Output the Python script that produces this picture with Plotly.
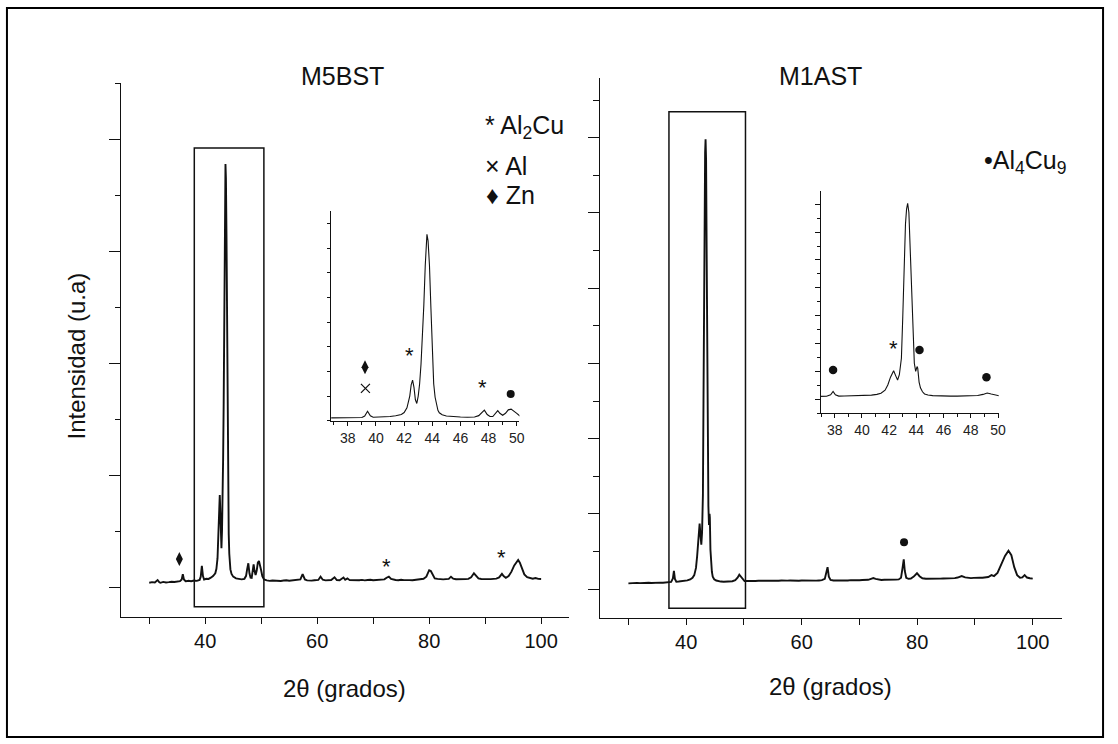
import plotly.graph_objects as go

# ---------------- diffraction patterns (2theta in degrees, intensity in a.u.) ----------------
m5bst_2theta = [
    30.0, 30.5, 31.0, 31.5, 31.8, 32.0, 32.5, 33.0, 33.5, 34.0, 34.5, 35.0, 35.5, 35.8, 36.0,
    36.2, 36.5, 36.85, 37.0, 37.5, 38.0, 38.5, 39.0, 39.2, 39.4, 39.6, 39.8, 40.2, 40.6, 41.0,
    41.4, 41.8, 42.0, 42.2, 42.4, 42.5, 42.6, 42.7, 42.8, 42.9, 43.0, 43.1, 43.2, 43.3, 43.4,
    43.5, 43.62, 43.7, 43.8, 43.9, 44.0, 44.1, 44.2, 44.3, 44.4, 44.5, 44.7, 45.0, 45.5, 46.0,
    46.5, 47.0, 47.3, 47.5, 47.7, 47.9, 48.1, 48.3, 48.5, 48.65, 48.8, 49.0, 49.2, 49.4, 49.6,
    49.8, 50.0, 50.2, 50.5, 51.0, 51.5, 52.0, 52.5, 53.0, 53.5, 54.0, 54.5, 55.0, 55.5, 56.0,
    56.5, 57.0, 57.4, 57.8, 58.2, 58.5, 59.0, 59.5, 60.2, 60.6, 61.0, 61.5, 62.0, 62.5, 63.1,
    63.5, 64.0, 64.7, 65.0, 65.4, 65.8, 66.5, 67.0, 67.5, 68.0, 68.5, 69.0, 69.5, 70.0, 70.5,
    71.0, 71.5, 72.0, 72.4, 72.8, 73.2, 73.6, 74.0, 74.5, 75.0, 75.5, 76.0, 76.5, 77.0, 77.5,
    78.0, 78.5, 79.0, 79.5, 80.0, 80.3, 80.7, 81.0, 81.5, 82.0, 82.5, 83.0, 83.5, 83.9, 84.3,
    84.8, 85.5, 86.0, 86.5, 87.0, 87.5, 88.0, 88.4, 88.8, 89.3, 90.0, 90.5, 91.0, 91.5, 92.0,
    92.5, 93.0, 93.3, 93.7, 94.2, 94.7, 95.2, 95.6, 95.9, 96.2, 96.6, 97.0, 97.5, 98.0, 98.5,
    99.0, 99.5, 100.0,
]
m5bst_counts = [
    82, 92, 85, 130, 90, 80, 96, 86, 92, 100, 94, 106, 110, 140, 235,
    140, 110, 112, 118, 110, 122, 116, 132, 190, 385, 200, 140, 152, 150, 172,
    200, 250, 330, 520, 1000, 1450, 1650, 1350, 850, 700, 1000, 1500, 2300, 3300, 4700,
    6300, 7560, 7300, 6300, 4600, 3000, 1500, 950, 600, 420, 320, 240, 190, 160, 150,
    142, 152, 205, 330, 430, 250, 172, 168, 330, 410, 300, 220, 300, 440, 470,
    400, 300, 200, 140, 125, 115, 122, 117, 123, 114, 121, 126, 117, 123, 125,
    128, 140, 235, 140, 124, 121, 119, 126, 132, 190, 135, 124, 129, 131, 180,
    130, 127, 175, 135, 160, 128, 124, 131, 127, 133, 124, 131, 136, 127, 133,
    129, 136, 142, 172, 192, 150, 135, 130, 127, 136, 129, 133, 129, 127, 136,
    139, 141, 152, 190, 305, 290, 200, 160, 151, 144, 141, 146, 151, 190, 155,
    144, 141, 142, 146, 151, 180, 250, 210, 160, 149, 146, 139, 146, 151, 156,
    176, 240, 200, 170, 200, 280, 390, 460, 490, 440, 330, 230, 180, 160, 154,
    166, 150, 148,
]

m1ast_2theta = [
    30.0, 30.5, 31.0, 31.5, 32.0, 32.5, 33.0, 33.5, 34.0, 34.5, 35.0, 35.5, 36.0, 36.5, 37.0,
    37.4, 37.7, 37.88, 38.05, 38.3, 38.7, 39.2, 39.7, 40.2, 40.7, 41.1, 41.4, 41.7, 41.9, 42.1,
    42.33, 42.5, 42.62, 42.75, 42.9, 43.0, 43.1, 43.2, 43.28, 43.36, 43.45, 43.55, 43.65, 43.75, 43.85,
    43.95, 44.05, 44.1, 44.2, 44.3, 44.45, 44.6, 44.85, 45.2, 45.6, 46.0, 46.5, 47.0, 47.5, 48.0,
    48.5, 48.9, 49.2, 49.5, 49.8, 50.1, 50.5, 51.0, 51.5, 52.0, 52.5, 53.0, 53.5, 54.0, 54.5,
    55.0, 55.5, 56.0, 56.5, 57.0, 57.5, 58.0, 58.5, 59.0, 59.5, 60.0, 60.5, 61.0, 61.5, 62.0,
    62.5, 63.0, 63.5, 64.0, 64.25, 64.48, 64.7, 65.0, 65.5, 66.0, 66.5, 67.0, 67.5, 68.0, 68.5,
    69.0, 69.5, 70.0, 70.5, 71.0, 71.5, 72.0, 72.4, 72.8, 73.3, 73.8, 74.3, 74.8, 75.3, 75.8,
    76.3, 76.8, 77.2, 77.45, 77.67, 77.85, 78.1, 78.5, 78.9, 79.4, 79.96, 80.4, 80.9, 81.5, 82.0,
    82.5, 83.0, 83.5, 84.0, 84.5, 85.0, 85.5, 86.0, 86.5, 87.0, 87.7, 88.3, 88.8, 89.3, 89.8,
    90.3, 90.8, 91.3, 91.8, 92.3, 92.86, 93.3, 93.9, 94.5, 95.2, 95.8, 96.3, 96.8, 97.3, 97.8,
    98.2, 98.6, 99.0, 99.5, 100.0,
]
m1ast_counts = [
    150, 158, 152, 162, 156, 163, 158, 165, 160, 168, 163, 170, 166, 172, 175,
    190, 280, 480, 270, 195, 198, 205, 212, 228, 255, 300, 370, 560, 873, 1350,
    1740, 1400, 1180, 1500, 2500, 5000, 8300, 10700, 11600, 11960, 11400, 8900, 6000, 3900, 2200,
    1700, 2000, 1900, 1050, 700, 460, 330, 260, 225, 205, 198, 192, 196, 202, 208,
    235, 300, 380, 320, 245, 212, 215, 210, 222, 215, 218, 225, 215, 220, 224,
    218, 222, 220, 226, 218, 222, 225, 220, 224, 220, 226, 222, 225, 220, 226,
    222, 228, 235, 270, 420, 580, 330, 240, 228, 225, 230, 226, 232, 228, 235,
    230, 236, 232, 238, 236, 245, 270, 290, 270, 248, 240, 245, 242, 248, 245,
    250, 255, 300, 550, 790, 480, 300, 270, 280, 330, 420, 340, 285, 272, 270,
    275, 272, 278, 275, 280, 278, 282, 285, 290, 305, 345, 310, 295, 290, 295,
    290, 298, 300, 305, 320, 370, 345, 430, 620, 880, 1020, 900, 580, 370, 300,
    310, 370, 305, 285, 275,
]

# ---------------- phase markers ----------------
# (2theta, intensity) of the symbols placed over reflections
m5bst_zn_main = ([35.38], [505])
m5bst_al2cu_main = ([72.43, 92.98], [457, 618])
m5bst_zn_zoom = ([39.22], [2166])
m5bst_al_zoom = ([39.25], [1314])
m5bst_al2cu_zoom = ([42.35, 47.58], [2868, 1542])
m5bst_al4cu9_zoom = ([49.57], [1083])

m1ast_al4cu9_main = ([77.72], [1242])
m1ast_al4cu9_zoom = ([37.88, 44.23, 49.15], [1788, 3008, 1343])
m1ast_al2cu_zoom = ([42.33], [3417])

# zoom windows marked on the full patterns: (x0, x1, y0, y1)
m5bst_window = (38.05, 50.48, -346, 7845)
m1ast_window = (37.02, 50.27, -513, 12694)

FONT = "Arial, Liberation Sans, sans-serif"
INK = "#111111"
W, H = 1118, 744


def px(x):
    return x / W


def py(y):
    return 1 - y / H


fig = go.Figure()

# full patterns
fig.add_trace(go.Scatter(x=m5bst_2theta, y=m5bst_counts, mode="lines",
                         line=dict(color=INK, width=1.9), xaxis="x", yaxis="y"))
fig.add_trace(go.Scatter(x=m1ast_2theta, y=m1ast_counts, mode="lines",
                         line=dict(color=INK, width=1.9), xaxis="x2", yaxis="y2"))
# zoomed patterns
fig.add_trace(go.Scatter(x=m5bst_2theta, y=m5bst_counts, mode="lines",
                         line=dict(color=INK, width=1.1), xaxis="x3", yaxis="y3"))
fig.add_trace(go.Scatter(x=m1ast_2theta, y=m1ast_counts, mode="lines",
                         line=dict(color=INK, width=1.1), xaxis="x4", yaxis="y4"))


def sym(pts, ax, ay, symbol, size, lw=0):
    fig.add_trace(go.Scatter(
        x=pts[0], y=pts[1], mode="markers", xaxis=ax, yaxis=ay,
        marker=dict(symbol=symbol, size=size, color=INK,
                    line=dict(color=INK, width=lw)),
    ))


sym(m5bst_zn_main, "x", "y", "diamond-tall", 10)
sym(m5bst_zn_zoom, "x3", "y3", "diamond-tall", 10)
sym(m5bst_al_zoom, "x3", "y3", "x-thin", 9, 1.2)
sym(m5bst_al4cu9_zoom, "x3", "y3", "circle", 8)
sym(m1ast_al4cu9_main, "x2", "y2", "circle", 8)
sym(m1ast_al4cu9_zoom, "x4", "y4", "circle", 8.5)

annotations = []


def star(pts, ax, ay):
    for x, y in zip(*pts):
        annotations.append(dict(x=x, y=y, xref=ax, yref=ay, text="*", showarrow=False,
                                font=dict(family=FONT, size=22, color=INK), yshift=-5))


star(m5bst_al2cu_main, "x", "y")
star(m5bst_al2cu_zoom, "x3", "y3")
star(m1ast_al2cu_zoom, "x4", "y4")


def label(text, x, y, size, xanchor="center", angle=0):
    annotations.append(dict(x=px(x), y=py(y), xref="paper", yref="paper", text=text,
                            showarrow=False, xanchor=xanchor, yanchor="middle",
                            textangle=angle, font=dict(family=FONT, size=size, color=INK)))


label("M5BST", 345, 76, 25)
label("M1AST", 826, 76, 25)
label("2θ (grados)", 347, 688, 24)
label("2θ (grados)", 836, 686, 24)
label("Intensidad (u.a)", 76, 356, 24, angle=-90)
label("* Al<sub>2</sub>Cu", 486, 127, 25, xanchor="left")
label("× Al", 486, 166, 25, xanchor="left")
label("♦ Zn", 487, 195, 25, xanchor="left")
label("•Al<sub>4</sub>Cu<sub>9</sub>", 988, 162, 25, xanchor="left")

shapes = [
    dict(type="rect", xref="paper", yref="paper", x0=px(7), x1=px(1110), y0=py(737), y1=py(8),
         line=dict(color="black", width=2)),
]
for win, ax, ay in ((m5bst_window, "x", "y"), (m1ast_window, "x2", "y2")):
    shapes.append(dict(type="rect", xref=ax, yref=ay, x0=win[0], x1=win[1], y0=win[2], y1=win[3],
                       line=dict(color=INK, width=1.5)))

common_x = dict(showline=True, linecolor=INK, linewidth=1, ticks="outside", tickcolor=INK,
                showgrid=False, zeroline=False, tickfont=dict(family=FONT, size=20, color=INK),
                ticklen=6, tickwidth=1, tick0=0, dtick=20,
                minor=dict(ticks="outside", ticklen=6, dtick=10, tickcolor=INK, showgrid=False))
common_y = dict(showline=True, linecolor=INK, linewidth=1, ticks="outside", tickcolor=INK,
                showgrid=False, zeroline=False, showticklabels=False,
                ticklen=11, tickwidth=1, tick0=0, dtick=2000,
                minor=dict(ticks="outside", ticklen=5.5, dtick=1000, tickcolor=INK, showgrid=False))
inset_x = dict(showline=True, linecolor=INK, linewidth=1, ticks="outside", tickcolor=INK,
               showgrid=False, zeroline=False, tickfont=dict(family=FONT, size=14, color="#222"),
               ticklen=4, tickwidth=1, tick0=0, dtick=2,
               minor=dict(ticks="outside", ticklen=3, dtick=1, tickcolor=INK, showgrid=False))

fig.update_layout(
    width=W, height=H, margin=dict(l=0, r=0, t=0, b=0),
    paper_bgcolor="white", plot_bgcolor="rgba(0,0,0,0)", showlegend=False,
    xaxis=dict(common_x, domain=[px(122), px(572.7)], range=[25, 105], anchor="y"),
    yaxis=dict(common_y, domain=[py(617), py(83.3)], range=[-530, 9000], anchor="x"),
    xaxis2=dict(common_x, domain=[px(603.3), px(1068.3)], range=[25, 105], anchor="y2"),
    yaxis2=dict(common_y, domain=[py(617.7), py(78.3)], range=[-763, 13582], anchor="x2"),
    xaxis3=dict(inset_x, domain=[px(333.3), px(522.7)], range=[36.82, 50.19], anchor="y3"),
    yaxis3=dict(showline=True, linecolor=INK, linewidth=1, ticks="outside", tickcolor=INK,
                showgrid=False, zeroline=False, showticklabels=False, ticklen=3, tick0=0, dtick=1000,
                domain=[py(420.7), py(210.7)], range=[0, 8520], anchor="x3"),
    xaxis4=dict(inset_x, domain=[px(826), px(1005)], range=[36.98, 50.05], anchor="y4"),
    yaxis4=dict(showline=True, linecolor=INK, linewidth=1, ticks="outside", tickcolor=INK,
                showgrid=False, zeroline=False, showticklabels=False, ticklen=5, tick0=0, dtick=1700,
                minor=dict(ticks="outside", ticklen=3, dtick=850, tickcolor=INK, showgrid=False),
                domain=[py(413.3), py(190.7)], range=[-853, 12726], anchor="x4"),
    annotations=annotations,
    shapes=shapes,
)

fig.write_html("out.html")
